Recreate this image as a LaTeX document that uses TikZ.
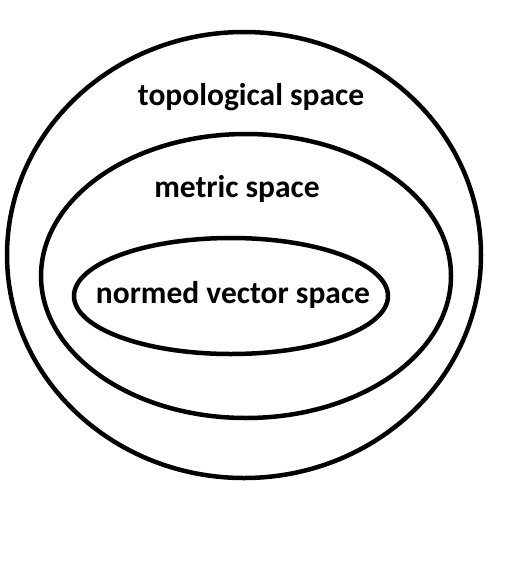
\documentclass[tikz,border=0pt]{standalone}
\usepackage{fontspec}
\setmainfont{Carlito}
\usetikzlibrary{calc}

\begin{document}
\begin{tikzpicture}[x=1pt,y=-1pt,
    ring/.style={draw,line width=4.5pt},
    lbl/.style={font=\fontsize{31.5}{36}\selectfont\bfseries,inner sep=0pt}]
    % Fix the page size
    \useasboundingbox (0,0) rectangle (520,565);

    % Define the centres of the sets
    \coordinate (T) at (244,255);
    \coordinate (M) at (246,276);
    \coordinate (N) at (231,296);

    % Draw the nested sets
    \draw[ring] (T) ellipse [x radius=237, y radius=223];
    \draw[ring] (M) ellipse [x radius=205, y radius=142];
    \draw[ring] (N) ellipse [x radius=157, y radius=58];

    % Place the labels
    \node[lbl] (top) at (251,97) {topological space};
    \node[lbl] (met) at (237,189) {metric space};
    \node[lbl] (nvs) at (233,295) {normed vector space};
\end{tikzpicture}
\end{document}
